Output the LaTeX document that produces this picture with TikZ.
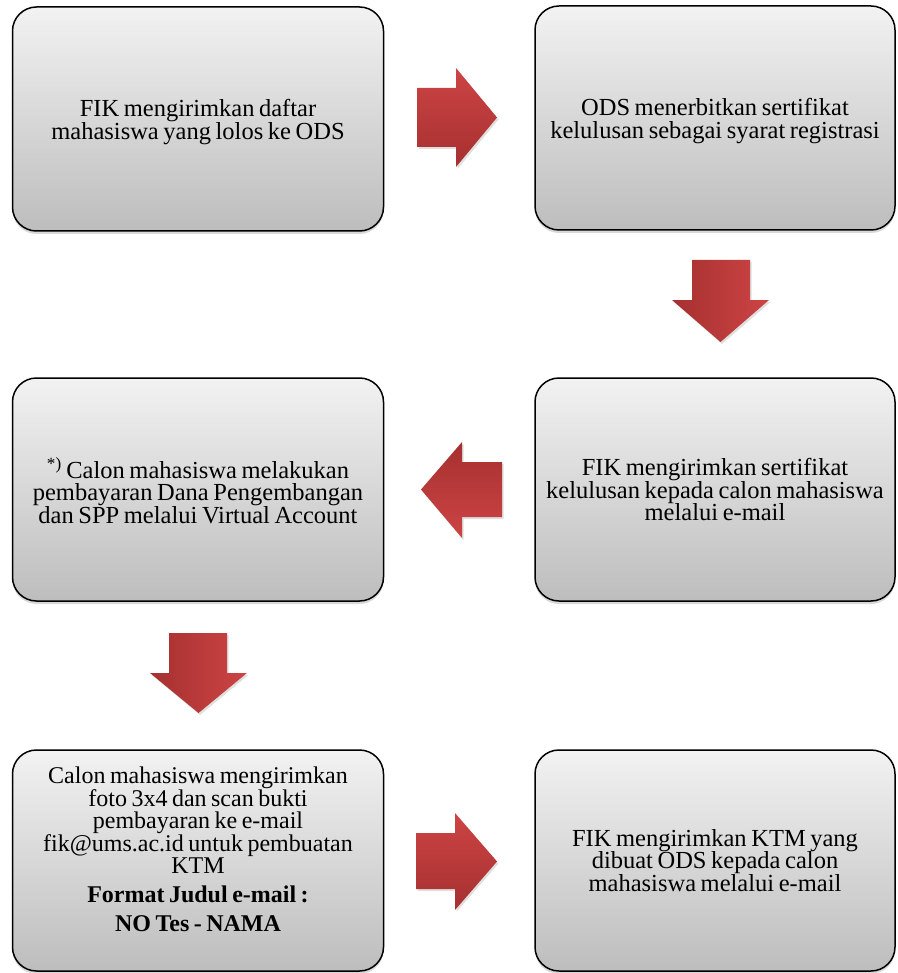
\documentclass[tikz,border=0pt]{standalone}
\usepackage{fontspec}
\setmainfont{Liberation Serif}[WordSpace=0.75]
\usetikzlibrary{shadows}
\definecolor{boxtop}{HTML}{F2F2F2}
\definecolor{boxbot}{HTML}{BDBDBD}
\definecolor{arlight}{HTML}{CD4444}
\definecolor{ardark}{HTML}{A63030}
\begin{document}
\begin{tikzpicture}[x=1pt,y=-1pt,
  box/.style={draw=black, line width=1.5pt, rounded corners=24pt,
    top color=boxtop, bottom color=boxbot,
    drop shadow={opacity=0.3, shadow xshift=0pt, shadow yshift=-3pt},
    inner sep=0pt},
  lbox/.style={box, minimum width=371pt},
  rbox/.style={box, minimum width=360pt},
  txt/.style={align=center, inner sep=0pt, font=\fontsize{24.5}{22.5}\selectfont},
  txtb/.style={align=center, inner sep=0pt, font=\fontsize{24}{22}\selectfont},
  redarrow/.style={draw=none,
    drop shadow={opacity=0.25, shadow xshift=1.5pt, shadow yshift=-2pt}},
  harrow/.style={redarrow, top color=arlight, bottom color=ardark},
  larrow/.style={redarrow, top color=ardark, bottom color=arlight},
  darrow/.style={redarrow, left color=ardark, right color=arlight}
]
\useasboundingbox (0,0) rectangle (897,973);

% boxes
\node[lbox, minimum height=224pt] (b1) at (198,119) {};
\node[rbox, minimum height=224pt] (b2) at (715,118) {};
\node[rbox, minimum height=223pt] (b3) at (715,489.5) {};
\node[lbox, minimum height=223pt] (b4) at (198,489.5) {};
\node[lbox, minimum height=221pt] (b5) at (198,860.5) {};
\node[rbox, minimum height=221pt] (b6) at (715,860.5) {};

% texts
\node[txt] (t1) at ([yshift=-3pt]b1.center)
  {FIK mengirimkan daftar\\mahasiswa yang lolos ke ODS};
\node[txt] (t2) at ([yshift=-3pt]b2.center)
  {ODS menerbitkan sertifikat\\kelulusan sebagai syarat registrasi};
\node[txt] (t3) at (b3.center)
  {FIK mengirimkan sertifikat\\kelulusan kepada calon mahasiswa\\melalui e-mail};
\node[txt] (t4) at ([yshift=-1pt]b4.center)
  {\textsuperscript{*)} Calon mahasiswa melakukan\\pembayaran Dana Pengembangan\\dan SPP melalui Virtual Account};
\node[txtb] (t5) at (198,849)
  {Calon mahasiswa mengirimkan\\foto 3x4 dan scan bukti\\pembayaran ke e-mail\\fik@ums.ac.id untuk pembuatan\\KTM\\[7pt]
   \textbf{Format Judul e-mail :}\\[7pt]\textbf{NO Tes - NAMA}};
\node[txt] (t6) at (b6.center)
  {FIK mengirimkan KTM yang\\dibuat ODS kepada calon\\mahasiswa melalui e-mail};

% block arrows
\path[harrow] (417,88) -- (456,88) -- (456,68) -- (497,117.5) -- (456,167) -- (456,147) -- (417,147) -- cycle;
\path[darrow] (692,260) -- (750,260) -- (750,300) -- (769,300) -- (720.5,342) -- (672,300) -- (692,300) -- cycle;
\path[larrow] (502,462) -- (462,462) -- (462,442) -- (421,489.5) -- (462,538) -- (462,517) -- (502,517) -- cycle;
\path[darrow] (169,633) -- (227,633) -- (227,673) -- (247,673) -- (198.5,713) -- (150,673) -- (169,673) -- cycle;
\path[harrow] (416,833) -- (455,833) -- (455,813) -- (497,861.5) -- (455,910) -- (455,889) -- (416,889) -- cycle;
\end{tikzpicture}
\end{document}
